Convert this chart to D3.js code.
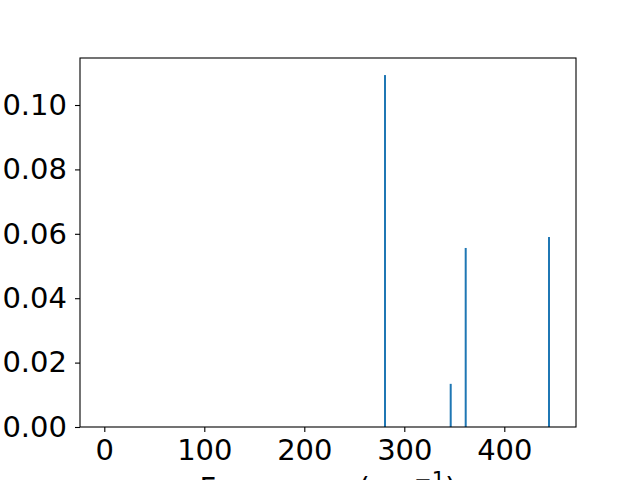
<!DOCTYPE html>
<html>
<head>
<meta charset="utf-8">
<script src="https://cdn.jsdelivr.net/npm/d3@7"></script>
<style>
  body { margin: 0; background: #fff; }
  svg { display: block; }
  text { font-family: "DejaVu Sans", sans-serif; fill: #000; }
</style>
</head>
<body>
<svg id="chart" width="640" height="480"></svg>
<script>
// peak frequencies (cm^-1) and intensities
const frequencies = [280.7, 346.4, 361.4, 444.7];
const intensities = [0.1093, 0.0134, 0.0556, 0.0590];
const xTicks = [0, 100, 200, 300, 400];
const yTicks = [0.00, 0.02, 0.04, 0.06, 0.08, 0.10];

const svg = d3.select("#chart");
const margin = {left: 80, right: 64, top: 58, bottom: 53};
const width = 640 - margin.left - margin.right;
const height = 480 - margin.top - margin.bottom;
const fontSize = 29;

const x = d3.scaleLinear().domain([-24.3, 471.7]).range([0, width]);
const y = d3.scaleLinear().domain([0, 0.1146]).range([height, 0]);

const g = svg.append("g")
    .attr("transform", "translate(" + margin.left + "," + margin.top + ")");

// bars
g.append("g")
    .selectAll("rect")
    .data(frequencies)
    .enter().append("rect")
    .attr("x", function (d) { return x(d) - 1; })
    .attr("width", 2)
    .attr("y", function (d, i) { return y(intensities[i]); })
    .attr("height", function (d, i) { return height - y(intensities[i]); })
    .attr("fill", "#1f77b4");

// axes
const xAxis = g.append("g")
    .attr("transform", "translate(0," + height + ")")
    .call(d3.axisBottom(x).tickValues(xTicks).tickSize(5).tickPadding(7)
        .tickFormat(d3.format("d")));
const yAxis = g.append("g")
    .call(d3.axisLeft(y).tickValues(yTicks).tickSize(5).tickPadding(8)
        .tickFormat(d3.format(".2f")));

[xAxis, yAxis].forEach(function (a) {
    a.attr("font-size", null).attr("font-family", null);
    a.select(".domain").remove();
    a.selectAll("line").attr("stroke", "#000").attr("stroke-width", 1.1);
    a.selectAll("text").style("font-size", fontSize + "px").style("font-family", "DejaVu Sans");
});

// frame
g.append("rect")
    .attr("width", width)
    .attr("height", height)
    .attr("fill", "none")
    .attr("stroke", "#000")
    .attr("stroke-width", 1.1);

// x label (cut off by the figure edge, as in the original)
g.append("text")
    .attr("x", width / 2)
    .attr("y", height + 71)
    .attr("text-anchor", "middle")
    .style("font-size", fontSize + "px")
    .html("Frequency (cm<tspan dy='-11' style='font-size:21px'>−1</tspan><tspan dy='11'>)</tspan>");
</script>
</body>
</html>
